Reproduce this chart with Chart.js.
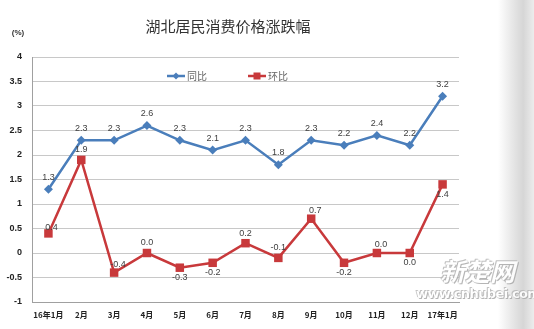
<!DOCTYPE html>
<html>
<head>
<meta charset="utf-8">
<script src="https://cdn.jsdelivr.net/npm/chart.js@4"></script>
<style>
  body { margin: 0; background: #fff; }
  #wrap { position: relative; width: 534px; height: 329px; overflow: hidden; }
  #edge {
    position: absolute; right: 0; top: 0; width: 36px; height: 329px;
    background: linear-gradient(to right, #ffffff 0%, #e4e4e4 45%, #d6d6d6 70%, #ececec 100%);
  }
  .wm { position: absolute; color: #fff; font-family: "DejaVu Sans", sans-serif; font-weight: bold;
        text-shadow: 0 0 1px #999, 1px 1px 0 #aaa, -1px -1px 0 #bbb; opacity: 0.85; white-space: nowrap; }
</style>
</head>
<body>
<div id="wrap">
  <canvas id="cpiChart" width="534" height="329"></canvas>
  <div id="edge"></div>
  <div class="wm" style="left:440px;top:252px;font-size:25px;font-family:'Noto Sans CJK SC';font-style:italic;">新楚网</div>
  <div class="wm" style="left:416px;top:286px;font-size:13px;letter-spacing:-0.6px;">www.cnhubei.com</div>
</div>
<script>
const months = ["16年1月", "2月", "3月", "4月", "5月", "6月", "7月", "8月", "9月", "10月", "11月", "12月", "17年1月"];
const yoyValues = [1.3, 2.3, 2.3, 2.6, 2.3, 2.1, 2.3, 1.8, 2.3, 2.2, 2.4, 2.2, 3.2];
const momValues = [0.4, 1.9, -0.4, 0.0, -0.3, -0.2, 0.2, -0.1, 0.7, -0.2, 0.0, 0.0, 1.4];

// where each 环比 label sits relative to its point
const momLabelPos = ["over", "up", "upright", "up", "down", "down", "up", "up", "upright", "down", "upright", "down", "down"];

const BLUE = "#4a7ebb";
const RED = "#c8393b";

const extrasPlugin = {
  id: "extras",
  afterDraw(chart) {
    const ctx = chart.ctx;
    ctx.save();
    // title
    ctx.fillStyle = "#333";
    ctx.font = "15px 'Noto Sans CJK SC'";
    ctx.textAlign = "center";
    ctx.textBaseline = "middle";
    ctx.fillText("湖北居民消费价格涨跌幅", 228, 26);
    ctx.font = "bold 8px 'Liberation Sans'";
    ctx.fillText("(%)", 18, 33);

    // legend
    const items = [
      { x: 167, label: "同比", color: BLUE, shape: "diamond" },
      { x: 248, label: "环比", color: RED, shape: "square" }
    ];
    items.forEach(it => {
      const y = 76;
      ctx.strokeStyle = it.color;
      ctx.lineWidth = 2.5;
      ctx.beginPath();
      ctx.moveTo(it.x, y);
      ctx.lineTo(it.x + 18, y);
      ctx.stroke();
      ctx.fillStyle = it.color;
      const cx = it.x + 9;
      if (it.shape === "diamond") {
        ctx.beginPath();
        ctx.moveTo(cx, y - 3.5); ctx.lineTo(cx + 3.5, y); ctx.lineTo(cx, y + 3.5); ctx.lineTo(cx - 3.5, y);
        ctx.closePath(); ctx.fill();
      } else {
        ctx.fillRect(cx - 3.5, y - 3.5, 7, 7);
      }
      ctx.fillStyle = "#666";
      ctx.font = "10px 'Noto Sans CJK SC'";
      ctx.textAlign = "left";
      ctx.fillText(it.label, it.x + 20, y);
    });

    // data labels
    ctx.font = "9px 'Liberation Sans'";
    ctx.fillStyle = "#404040";
    ctx.textAlign = "center";
    const yoyMeta = chart.getDatasetMeta(0);
    yoyMeta.data.forEach((pt, i) => {
      ctx.fillText(yoyValues[i].toFixed(1), pt.x, pt.y - 12);
    });
    const momMeta = chart.getDatasetMeta(1);
    momMeta.data.forEach((pt, i) => {
      let dx = 0, dy = -10;
      const pos = momLabelPos[i];
      if (pos === "down") dy = 10;
      if (pos === "upright") { dx = 4; dy = -8; }
      if (pos === "over") { dx = 3; dy = -6; }
      ctx.fillText(momValues[i].toFixed(1), pt.x + dx, pt.y + dy);
    });
    ctx.restore();
  }
};

new Chart(document.getElementById("cpiChart"), {
  type: "line",
  data: {
    labels: months,
    datasets: [
      {
        label: "同比",
        data: yoyValues,
        borderColor: BLUE,
        backgroundColor: BLUE,
        borderWidth: 2.5,
        pointStyle: "rectRot",
        pointRadius: 4.5,
        pointBorderWidth: 0,
        tension: 0
      },
      {
        label: "环比",
        data: momValues,
        borderColor: RED,
        backgroundColor: RED,
        borderWidth: 2.5,
        pointStyle: "rect",
        pointRadius: 6,
        pointBorderWidth: 0,
        tension: 0
      }
    ]
  },
  options: {
    responsive: false,
    animation: false,
    layout: { padding: { top: 57, right: 75, bottom: 0, left: 0 } },
    plugins: {
      legend: { display: false },
      tooltip: { enabled: false }
    },
    scales: {
      x: {
        offset: true,
        grid: { display: false, drawTicks: false },
        border: { color: "#a0a0a0", width: 1 },
        ticks: {
          color: "#222",
          font: { family: "'Noto Sans CJK SC'", size: 8, weight: "bold" },
          maxRotation: 0,
          autoSkip: false,
          padding: 8
        },
        afterFit(scale) { scale.height = 27; }
      },
      y: {
        min: -1,
        max: 4,
        grid: { color: "#c8c8c8", drawTicks: false },
        border: { color: "#a0a0a0", width: 1 },
        ticks: {
          stepSize: 0.5,
          color: "#222",
          font: { family: "'Liberation Sans'", size: 9, weight: "bold" },
          padding: 10,
          callback: v => String(Math.round(v * 10) / 10)
        },
        afterFit(scale) { scale.width = 32; }
      }
    }
  },
  plugins: [extrasPlugin]
});
</script>
</body>
</html>
